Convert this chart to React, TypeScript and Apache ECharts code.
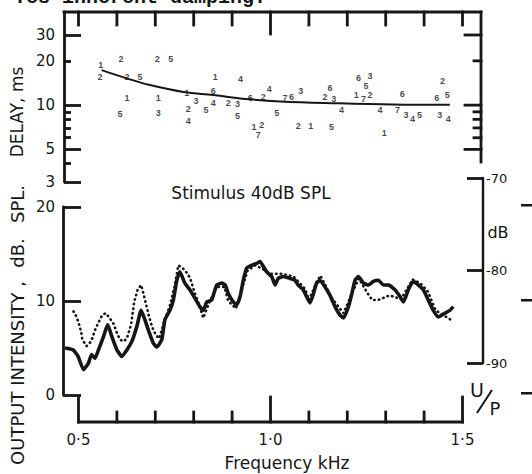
import React, { useEffect, useRef } from "react";
import * as echarts from "echarts";

// ---------- data ----------
// Top panel: delay estimates (frequency kHz, delay ms, run label)
const delayFreq = [0.558, 0.556, 0.611, 0.626, 0.660, 0.626, 0.608, 0.705, 0.740, 0.708, 0.708, 0.782, 0.806, 0.786, 0.786, 0.832, 0.856, 0.851, 0.851, 0.890, 0.914, 0.914, 0.922, 0.947, 0.981, 0.997, 0.957, 0.977, 0.968, 1.016, 1.038, 1.055, 1.079, 1.072, 1.105, 1.159, 1.155, 1.142, 1.165, 1.185, 1.229, 1.259, 1.249, 1.223, 1.242, 1.259, 1.285, 1.296, 1.343, 1.331, 1.353, 1.370, 1.388, 1.433, 1.448, 1.460, 1.441, 1.463];
const delayMs = [18.8, 15.5, 20.6, 15.5, 15.5, 11.1, 8.7, 20.6, 20.6, 11.1, 8.9, 12.0, 10.7, 9.4, 7.8, 9.2, 15.5, 12.5, 10.3, 10.3, 10.2, 8.4, 15.0, 11.1, 11.3, 12.9, 7.1, 7.3, 6.3, 8.9, 11.1, 11.4, 12.5, 7.2, 7.2, 7.1, 13.0, 11.4, 11.0, 9.2, 15.2, 15.8, 13.4, 11.7, 11.0, 11.7, 9.2, 6.5, 11.9, 9.2, 8.6, 8.0, 8.6, 11.1, 14.6, 11.7, 8.6, 8.0];
const delayRun = ["1", "2", "2", "2", "5", "1", "5", "2", "5", "1", "3", "1", "3", "2", "4", "5", "1", "6", "4", "2", "3", "5", "4", "6", "2", "4", "1", "2", "7", "5", "7", "6", "3", "2", "1", "5", "6", "2", "3", "4", "6", "3", "5", "1", "7", "2", "4", "1", "6", "7", "3", "4", "5", "6", "2", "5", "3", "4"];

// Fitted delay curve
const fitFreq = [0.560, 0.626, 0.686, 0.773, 0.851, 0.947, 1.025, 1.172, 1.320, 1.467];
const fitDelay = [17.3, 15.2, 13.7, 12.3, 11.7, 10.95, 10.6, 10.3, 10.1, 10.05];

// Bottom panel: output intensity (dB SPL), solid trace
const solidFreq = [0.465, 0.486, 0.499, 0.513, 0.526, 0.534, 0.543, 0.552, 0.565, 0.576, 0.587, 0.600, 0.613, 0.626, 0.639, 0.652, 0.663, 0.673, 0.682, 0.695, 0.704, 0.717, 0.725, 0.738, 0.747, 0.756, 0.764, 0.777, 0.790, 0.803, 0.816, 0.825, 0.834, 0.847, 0.851, 0.860, 0.873, 0.882, 0.890, 0.903, 0.912, 0.921, 0.929, 0.938, 0.951, 0.964, 0.973, 0.981, 0.990, 1.003, 1.012, 1.020, 1.033, 1.051, 1.064, 1.072, 1.085, 1.090, 1.103, 1.112, 1.120, 1.129, 1.142, 1.155, 1.168, 1.181, 1.190, 1.203, 1.212, 1.220, 1.229, 1.242, 1.255, 1.268, 1.281, 1.294, 1.307, 1.324, 1.337, 1.346, 1.359, 1.372, 1.385, 1.398, 1.411, 1.424, 1.437, 1.454, 1.467, 1.476];
const solidIntensity = [5.0, 4.8, 4.1, 2.7, 3.4, 4.3, 3.9, 4.8, 6.2, 7.5, 6.2, 4.8, 4.1, 4.8, 5.7, 7.3, 9.0, 8.0, 6.9, 5.5, 5.1, 5.9, 8.0, 9.0, 10.1, 12.2, 13.1, 11.9, 11.2, 10.3, 9.4, 9.0, 9.9, 10.1, 10.6, 11.7, 11.9, 11.7, 10.8, 9.9, 9.6, 10.5, 12.2, 13.5, 13.8, 14.0, 14.2, 13.7, 13.1, 12.6, 11.7, 12.4, 12.6, 12.4, 12.2, 11.7, 11.2, 10.8, 9.8, 10.8, 11.9, 12.2, 11.5, 10.6, 9.4, 8.5, 8.2, 9.4, 10.8, 12.2, 12.6, 11.9, 11.7, 12.1, 12.2, 11.7, 11.7, 11.2, 10.5, 9.9, 11.2, 12.1, 11.7, 11.2, 10.1, 9.0, 8.3, 8.7, 9.0, 9.4];

// Bottom panel: dotted trace
const dottedFreq = [0.487, 0.495, 0.501, 0.507, 0.510, 0.521, 0.533, 0.543, 0.553, 0.562, 0.571, 0.579, 0.591, 0.600, 0.608, 0.617, 0.626, 0.637, 0.645, 0.654, 0.663, 0.669, 0.675, 0.684, 0.692, 0.701, 0.710, 0.725, 0.738, 0.750, 0.760, 0.777, 0.790, 0.803, 0.815, 0.825, 0.840, 0.860, 0.880, 0.890, 0.910, 0.940, 0.960, 0.980, 1.000, 1.030, 1.060, 1.090, 1.100, 1.120, 1.130, 1.160, 1.190, 1.210, 1.230, 1.250, 1.265, 1.280, 1.310, 1.340, 1.370, 1.390, 1.410, 1.430, 1.450, 1.470];
const dottedIntensity = [8.9, 8.3, 7.6, 6.7, 5.9, 5.2, 5.7, 6.9, 7.8, 8.5, 8.7, 8.3, 7.6, 6.6, 5.9, 5.7, 6.0, 7.5, 9.9, 11.2, 11.7, 10.8, 9.8, 8.3, 7.2, 6.4, 6.0, 8.0, 9.5, 11.5, 13.8, 13.3, 12.5, 10.8, 9.5, 8.2, 9.8, 11.5, 11.5, 10.0, 9.2, 13.2, 13.8, 13.4, 12.9, 12.9, 12.6, 11.3, 10.1, 12.0, 12.7, 10.3, 8.7, 10.6, 12.4, 11.0, 10.1, 10.1, 10.6, 10.2, 12.3, 11.9, 11.0, 9.0, 8.5, 8.0];

// Tick values / labels
const delayLabelTicks = [3, 5, 10, 20, 30];
const delayMajorTicks = [3, 5, 10, 30];
const delayMinorTicks = [4, 6, 7, 8, 9, 20];
const delayRightMajor = [5, 10, 30];
const delayRightMinor = [6, 7, 8, 9, 20];
const delayRange = [3, 43];
const delayRightLineRange = [4.1, 43];
const intensityTicks = [0, 10, 20];
const dbTicks = [-90, -80, -70];
const freqRange = [0.5, 1.5];
const freqTicks = [0.5, 0.6, 0.7, 0.8, 0.9, 1.0, 1.1, 1.2, 1.3, 1.4, 1.5];
const freqLabelTicks = [0.5, 1.0, 1.5];
const freqTopLongTicks = [1.0];

// ---------- layout ----------
const INK = "#161616";
const SANS = "DejaVu Sans";
const PX_PER_KHZ = 384;
const F05_PX = 78.5;
const TOP = { left: 64, right: 481, top: 12, bottom: 182 };
const BOT = { left: 63, right: 483, top: 207, bottom: 395 };
const DB = { top: 178, bottom: 363 };
const AX = { top: 396, bottom: 422 };
const LW = 2.8;
const fAt = (px: number) => 0.5 + (px - F05_PX) / PX_PER_KHZ;
const L = (v: number) => Math.log10(v);

const lineAxis = (w = LW) => ({ show: true, onZero: false, lineStyle: { color: INK, width: w } });
const noLine = () => ({ show: false, onZero: false });
const tickC = (vals: number[], len: number, w = LW) => ({ show: true, inside: true, length: len, customValues: vals, lineStyle: { color: INK, width: w } });
const off = () => ({ show: false });
const gridBox = (left: number, top: number, width: number, height: number) => ({ left, top, width, height, outerBoundsMode: "none", containLabel: false });
const centered = { align: "center", textAlign: "center", verticalAlign: "middle", textVerticalAlign: "middle" };

export default function App() {
  const ref = useRef<HTMLDivElement>(null);
  useEffect(() => {
    if (!ref.current) return;
    const chart = echarts.init(ref.current, null, { renderer: "svg" });
    const option: any = {
      animation: false,
      backgroundColor: "#ffffff",
      grid: [
        gridBox(TOP.left, TOP.top, TOP.right - TOP.left, TOP.bottom - TOP.top),
        gridBox(BOT.left, BOT.top, BOT.right - BOT.left, BOT.bottom - BOT.top),
        gridBox(BOT.left, DB.top, BOT.right - BOT.left, DB.bottom - DB.top),
        gridBox(F05_PX, AX.top, PX_PER_KHZ, AX.bottom - AX.top),
      ],
      xAxis: [
        { gridIndex: 0, type: "value", position: "top", min: fAt(TOP.left), max: fAt(TOP.right), axisLine: noLine(), axisTick: off(), axisLabel: off(), splitLine: off() },
        { gridIndex: 1, type: "value", min: fAt(BOT.left), max: fAt(BOT.right), show: false },
        { gridIndex: 2, type: "value", min: 0, max: 1, show: false },
        {
          gridIndex: 3, type: "value", position: "bottom", min: freqRange[0], max: freqRange[1], axisLine: noLine(), axisTick: off(),
          axisLabel: { show: true, customValues: freqLabelTicks, margin: 10, color: INK, fontSize: 15, fontFamily: SANS, formatter: (v: number) => v.toFixed(1).replace(".", "·") },
          splitLine: off(),
        },
      ],
      yAxis: [
        {
          gridIndex: 0, type: "value", position: "left", min: L(delayRange[0]), max: L(delayRange[1]), axisLine: lineAxis(), axisTick: tickC(delayMajorTicks.map(L), 17),
          axisLabel: { show: true, customValues: delayLabelTicks.map(L), margin: 9, color: INK, fontSize: 15, fontFamily: SANS, formatter: (v: number) => String(Math.round(Math.pow(10, v))) },
          splitLine: off(),
        },
        { gridIndex: 0, type: "value", position: "left", min: L(delayRange[0]), max: L(delayRange[1]), axisLine: noLine(), axisTick: tickC(delayMinorTicks.map(L), 7), axisLabel: off(), splitLine: off() },
        {
          gridIndex: 1, type: "value", position: "left", min: 0, max: 20, axisLine: lineAxis(), axisTick: tickC(intensityTicks, 18),
          axisLabel: { show: true, customValues: intensityTicks, margin: 8, color: INK, fontSize: 15, fontFamily: SANS },
          splitLine: off(),
        },
        {
          gridIndex: 2, type: "value", position: "right", min: -90, max: -70, axisLine: lineAxis(2.4), axisTick: tickC(dbTicks, 16),
          axisLabel: { show: true, customValues: dbTicks, margin: 3, color: INK, fontSize: 13, fontFamily: SANS },
          splitLine: off(),
        },
        { gridIndex: 3, type: "value", min: 0, max: 1, show: false },
      ],
      series: [
        { type: "line", xAxisIndex: 0, yAxisIndex: 0, smooth: 0.4, symbol: "none", lineStyle: { color: INK, width: 2 }, data: fitFreq.map((f, i) => [f, L(fitDelay[i])]) },
        {
          type: "scatter", xAxisIndex: 0, yAxisIndex: 0, symbol: "circle", symbolSize: 1, itemStyle: { color: "rgba(0,0,0,0)" },
          label: { show: true, position: "inside", formatter: (p: any) => p.value[2], color: INK, fontSize: 9, fontWeight: "bold", fontFamily: "Liberation Sans" },
          data: delayFreq.map((f, i) => [f, L(delayMs[i]), delayRun[i]]),
        },
        { type: "line", xAxisIndex: 1, yAxisIndex: 2, symbol: "none", lineStyle: { color: INK, width: 2.6, type: [0.5, 4.2], cap: "round" }, data: dottedFreq.map((f, i) => [f, dottedIntensity[i]]) },
        { type: "line", xAxisIndex: 1, yAxisIndex: 2, symbol: "none", smooth: 0.15, lineStyle: { color: INK, width: 3.6, join: "round" }, data: solidFreq.map((f, i) => [f, solidIntensity[i]]) },
      ],
    };
    chart.setOption(option);

    // Frame lines and ticks placed through the axes' own scales
    const px = (finder: any, v: number) => Number(chart.convertToPixel(finder, v));
    const xT = (f: number) => px({ xAxisIndex: 0 }, f);
    const yT = (d: number) => px({ yAxisIndex: 0 }, L(d));
    const xB = (f: number) => px({ xAxisIndex: 3 }, f);
    const yB0 = px({ yAxisIndex: 4 }, 0);
    const seg = (x1: number, y1: number, x2: number, y2: number) => ({
      type: "line", silent: true, z: 100, shape: { x1, y1, x2, y2 }, style: { stroke: INK, lineWidth: LW, lineCap: "square" },
    });
    const topY = yT(delayRange[1]);
    const xL = xT(fAt(TOP.left));
    const xR = xT(fAt(TOP.right));
    const frame: any[] = [];
    frame.push(seg(xL, topY, xR, topY));
    freqTicks.forEach((f) => frame.push(seg(xT(f), topY, xT(f), topY + (freqTopLongTicks.includes(f) ? 22 : 13))));
    frame.push(seg(xR, yT(delayRightLineRange[0]), xR, topY));
    delayRightMajor.forEach((d) => frame.push(seg(xR - 16, yT(d), xR, yT(d))));
    delayRightMinor.forEach((d) => frame.push(seg(xR - 7, yT(d), xR, yT(d))));
    frame.push(seg(xB(freqRange[0]), yB0, xB(freqRange[1]), yB0));
    freqTicks.forEach((f) => frame.push(seg(xB(f), yB0, xB(f), yB0 - (freqLabelTicks.includes(f) ? 25 : 10))));

    const texts: any[] = [
      { type: "text", x: 14, y: 7, style: { text: "Yes inherent damping:", fill: INK, font: "bold 20px 'Liberation Mono'", align: "left", textAlign: "left", verticalAlign: "bottom", textVerticalAlign: "bottom" } },
      { type: "text", x: 17, y: 112, rotation: Math.PI / 2, style: { text: "DELAY, ms", fill: INK, font: `17px '${SANS}'`, ...centered } },
      { type: "text", x: 17, y: 373, rotation: Math.PI / 2, style: { text: "OUTPUT INTENSITY ,", fill: INK, font: `18px '${SANS}'`, ...centered } },
      { type: "text", x: 17, y: 253, rotation: Math.PI / 2, style: { text: "dB.", fill: INK, font: `18px '${SANS}'`, ...centered } },
      { type: "text", x: 17, y: 204, rotation: Math.PI / 2, style: { text: "SPL.", fill: INK, font: `18px '${SANS}'`, ...centered } },
      { type: "text", x: 251, y: 193, style: { text: "Stimulus 40dB SPL", fill: INK, font: `17px '${SANS}'`, ...centered } },
      { type: "text", x: 287, y: 463, style: { text: "Frequency kHz", fill: INK, font: `17px '${SANS}'`, ...centered } },
      { type: "text", x: 498, y: 232, style: { text: "dB", fill: INK, font: `16px '${SANS}'`, ...centered } },
      { type: "text", x: 477, y: 390, style: { text: "U", fill: INK, font: `19px '${SANS}'`, ...centered } },
      { type: "line", shape: { x1: 477, y1: 413, x2: 492, y2: 390 }, style: { stroke: INK, lineWidth: 2 } },
      { type: "text", x: 495, y: 408, style: { text: "P", fill: INK, font: `18px '${SANS}'`, ...centered } },
      { type: "rect", shape: { x: 521, y: 204, width: 11, height: 2.5 }, style: { fill: INK } },
      { type: "rect", shape: { x: 521, y: 299, width: 11, height: 2.5 }, style: { fill: INK } },
      { type: "rect", shape: { x: 521, y: 392, width: 11, height: 2.5 }, style: { fill: INK } },
    ];
    chart.setOption({ graphic: [...frame, ...texts] });
    return () => chart.dispose();
  }, []);
  return <div ref={ref} style={{ width: 532, height: 474, position: "absolute", left: 0, top: 0 }} />;
}
